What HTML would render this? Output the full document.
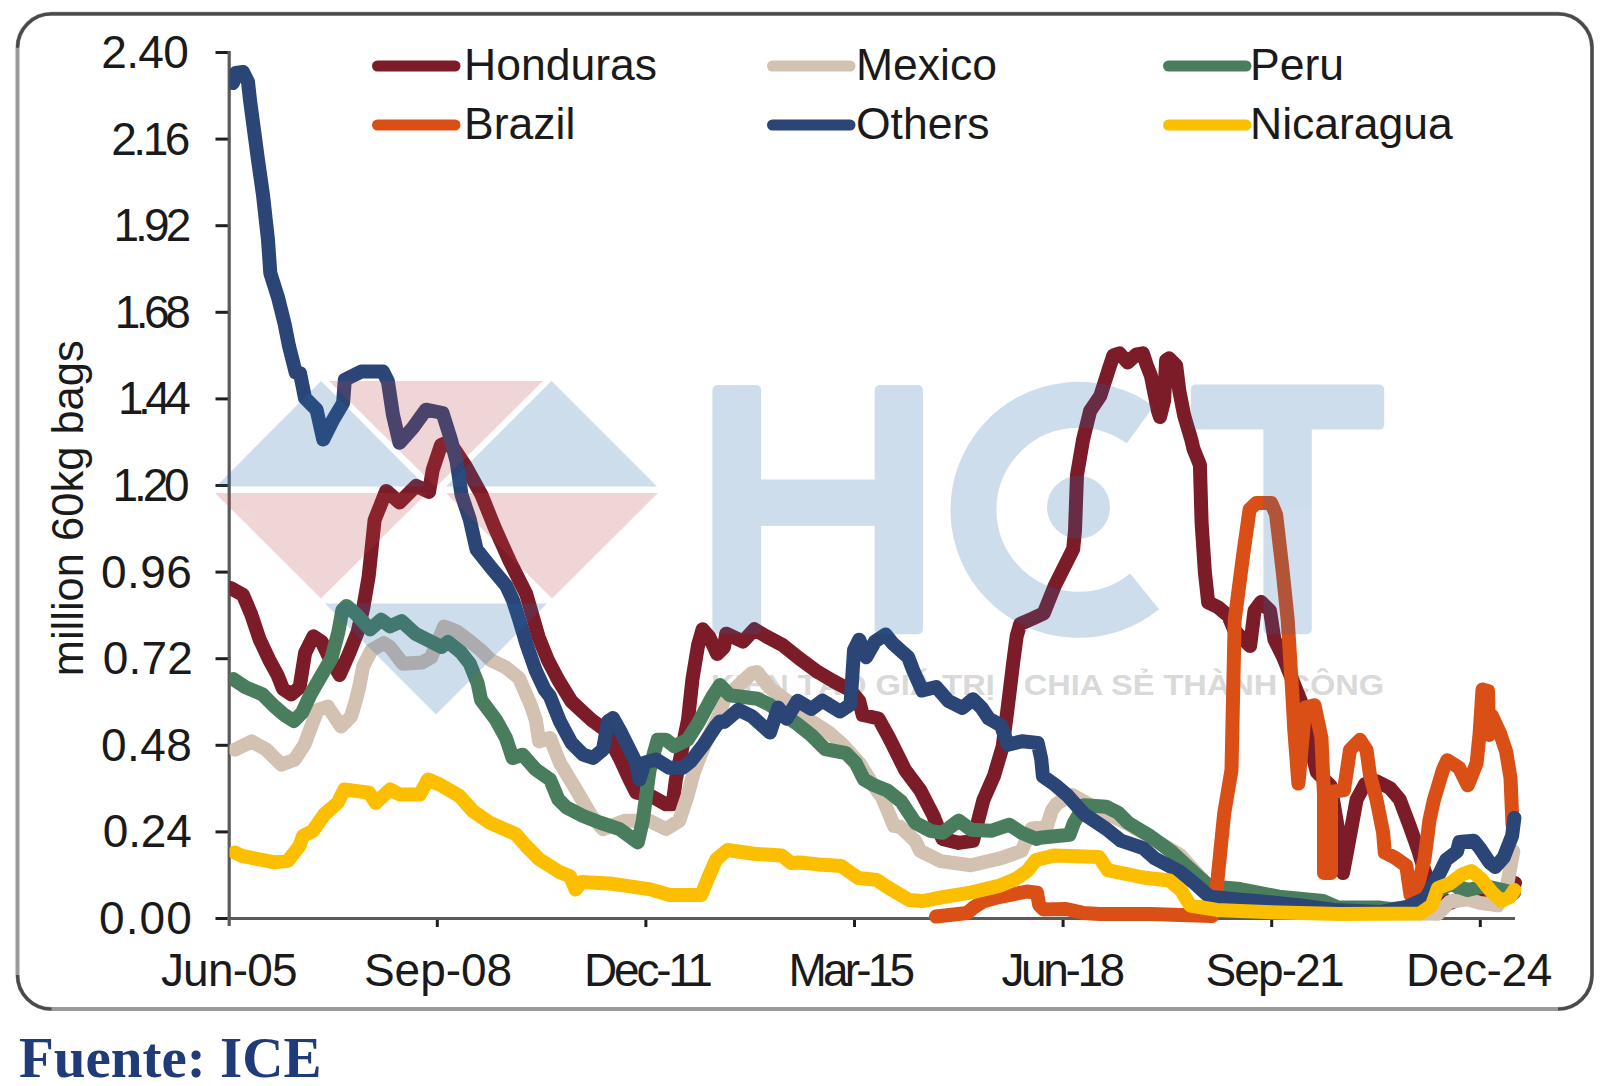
<!DOCTYPE html><html><head><meta charset="utf-8"><style>html,body{margin:0;padding:0;background:#fff;width:1600px;height:1086px;overflow:hidden}svg{display:block}text{font-family:"Liberation Sans",sans-serif}</style></head><body>
<svg width="1600" height="1086" viewBox="0 0 1600 1086">
<rect x="17.5" y="13.8" width="1574.5" height="995.2" rx="34" ry="34" fill="#fff" stroke="#9a9a9a" stroke-width="4"/>
<path d="M17.5,47.8 A34,34 0 0 1 51.5,13.8 L1558,13.8 A34,34 0 0 1 1592,47.8 L1592,975 A34,34 0 0 1 1558,1009 M51.5,1009 A34,34 0 0 1 17.5,975" fill="none" stroke="#4a4a4a" stroke-width="3.2"/>
<text x="711" y="695" font-size="28.8" font-weight="bold" fill="#d9d9d9" textLength="673" lengthAdjust="spacingAndGlyphs">KIẾN TẠO GIÁ TRỊ - CHIA SẺ THÀNH CÔNG</text>
<g stroke="#1e1e1e" stroke-width="3" fill="none">
<line x1="215.5" y1="918.5" x2="228.7" y2="918.5"/>
<line x1="215.5" y1="831.9" x2="228.7" y2="831.9"/>
<line x1="215.5" y1="745.3" x2="228.7" y2="745.3"/>
<line x1="215.5" y1="658.7" x2="228.7" y2="658.7"/>
<line x1="215.5" y1="572.1" x2="228.7" y2="572.1"/>
<line x1="215.5" y1="485.5" x2="228.7" y2="485.5"/>
<line x1="215.5" y1="398.9" x2="228.7" y2="398.9"/>
<line x1="215.5" y1="312.3" x2="228.7" y2="312.3"/>
<line x1="215.5" y1="225.7" x2="228.7" y2="225.7"/>
<line x1="215.5" y1="139.1" x2="228.7" y2="139.1"/>
<line x1="215.5" y1="52.5" x2="228.7" y2="52.5"/>
<line x1="437.3" y1="918.5" x2="437.3" y2="927"/>
<line x1="645.9" y1="918.5" x2="645.9" y2="927"/>
<line x1="854.5" y1="918.5" x2="854.5" y2="927"/>
<line x1="1063.1" y1="918.5" x2="1063.1" y2="927"/>
<line x1="1271.7" y1="918.5" x2="1271.7" y2="927"/>
<line x1="1480.3" y1="918.5" x2="1480.3" y2="927"/>
</g>
<g stroke="#5a5a5a" stroke-width="3.2" fill="none">
<line x1="229.2" y1="51" x2="229.2" y2="926"/>
<line x1="227.2" y1="918.5" x2="1515" y2="918.5"/>
</g>
<defs><clipPath id="pc"><rect x="229.5" y="0" width="1370" height="1086"/></clipPath></defs><g clip-path="url(#pc)">
<polyline points="230.5,588.0 243.0,594.9 251.2,614.2 259.5,639.1 269.2,659.8 277.5,675.0 283.0,688.8 291.3,694.3 299.6,687.4 305.1,652.9 313.4,636.3 321.7,641.8 328.0,655.0 339.6,675.0 349.3,652.9 357.6,632.2 363.1,608.7 368.6,576.9 374.6,520.0 386.2,490.9 399.5,502.5 416.1,485.9 429.0,492.0 432.7,470.0 441.0,445.0 446.0,443.0 455.0,450.0 464.9,465.0 481.4,494.6 494.7,527.7 509.6,560.9 526.2,594.0 538.7,637.3 547.6,659.4 558.3,680.0 571.5,701.5 591.4,719.8 604.7,729.7 619.6,757.9 629.5,779.4 636.2,792.7 649.4,795.0 666.0,804.3 672.6,804.3 675.9,779.4 682.6,746.3 688.0,720.0 692.5,678.8 698.1,645.0 702.6,629.3 709.4,637.1 717.2,654.0 724.0,647.2 726.2,633.7 743.1,641.6 754.4,629.3 765.6,636.0 782.5,645.0 799.4,658.5 816.2,670.9 833.1,681.0 850.0,690.0 859.2,701.0 862.7,715.0 878.5,718.5 889.0,737.7 899.5,758.7 905.1,770.0 920.3,790.3 933.4,815.6 942.5,838.9 958.7,842.9 972.9,840.9 983.4,800.0 993.9,776.2 1002.7,746.4 1007.9,706.2 1013.2,662.5 1016.7,636.2 1020.2,624.0 1032.4,618.7 1043.7,613.4 1054.7,585.8 1073.2,549.0 1075.0,530.5 1077.0,475.0 1083.0,440.0 1090.1,411.0 1100.3,395.8 1108.4,370.5 1113.4,355.3 1119.5,353.3 1127.6,362.4 1136.7,354.3 1142.8,353.3 1146.9,365.5 1150.9,375.6 1158.0,411.0 1160.0,417.1 1164.1,400.9 1166.1,360.4 1169.1,358.4 1176.2,365.5 1179.3,390.8 1184.3,416.1 1191.4,440.0 1193.3,448.3 1199.9,464.9 1201.6,522.8 1204.9,572.5 1208.2,602.4 1218.2,607.3 1228.1,615.6 1234.6,630.7 1250.1,646.1 1254.5,610.8 1261.1,602.0 1270.0,610.8 1274.4,639.5 1283.2,657.2 1292.1,679.3 1300.9,701.4 1309.9,744.5 1316.8,772.1 1330.7,786.0 1340.0,841.0 1343.0,873.0 1349.0,841.0 1356.6,799.5 1365.0,784.0 1376.5,781.3 1389.8,787.9 1399.7,799.5 1409.7,826.0 1418.0,849.3 1422.9,865.8 1425.0,872.0 1435.0,895.0 1450.0,903.0 1474.0,893.0 1495.0,900.0 1515.0,883.0" fill="none" stroke="#7b1c28" stroke-width="14" stroke-linejoin="round" stroke-linecap="round"/>
<polyline points="234.9,749.7 251.5,741.4 266.4,749.7 281.3,764.6 294.6,759.7 304.5,744.7 311.2,726.5 317.8,709.9 327.8,706.6 341.0,726.5 351.0,716.6 356.0,700.0 359.2,687.0 363.1,666.7 371.4,650.1 383.8,643.2 390.0,647.0 402.9,663.8 422.2,662.5 431.2,657.3 444.1,626.4 457.0,631.5 467.3,639.3 480.2,649.6 490.5,659.9 506.0,667.6 518.9,677.9 530.8,705.0 535.8,719.9 539.1,741.4 550.0,738.0 559.9,762.8 574.9,787.7 591.4,815.9 603.0,829.1 624.6,820.8 649.4,820.8 666.0,829.1 679.2,820.8 687.5,796.0 694.2,771.1 704.1,746.3 720.0,713.1 724.2,698.7 737.4,686.5 752.0,673.0 757.0,672.0 770.0,688.0 790.0,703.0 803.0,716.0 829.4,733.0 842.0,744.0 860.0,764.0 873.0,785.0 882.0,797.0 894.0,826.0 900.0,826.7 915.2,840.9 920.3,851.0 940.5,861.1 970.9,865.2 1001.3,858.1 1021.5,851.0 1031.6,828.7 1046.8,826.7 1051.9,810.5 1057.0,803.4 1072.4,795.0 1092.2,806.0 1130.0,825.0 1180.0,855.0 1209.0,887.0 1240.0,901.0 1300.0,911.0 1390.0,913.0 1437.9,913.7 1449.8,901.7 1467.8,899.3 1479.7,902.9 1497.7,905.3 1507.3,883.8 1513.3,851.5" fill="none" stroke="#d3c1b2" stroke-width="14" stroke-linejoin="round" stroke-linecap="round"/>
<polyline points="233.3,679.1 245.7,687.4 262.3,694.3 273.3,705.4 284.4,715.0 294.0,721.0 302.3,712.3 310.6,694.3 321.7,675.0 331.4,658.4 338.3,632.2 342.4,610.1 346.5,605.9 356.2,614.2 370.0,629.4 381.1,619.7 390.0,626.4 401.6,621.2 415.8,634.1 428.7,640.6 441.5,647.0 448.0,641.9 460.9,652.2 469.9,663.8 477.6,683.1 481.1,700.0 496.0,719.9 506.0,738.1 512.6,758.0 522.6,754.7 535.8,769.6 550.0,779.4 558.3,799.3 566.6,807.6 583.1,815.9 599.7,822.5 619.6,829.1 637.8,842.4 642.8,820.8 646.1,796.0 649.4,771.1 654.4,751.3 657.7,739.7 666.0,739.7 674.3,746.3 687.5,739.7 699.1,721.4 712.4,696.6 720.0,685.0 729.7,695.3 757.3,698.7 770.0,704.9 797.6,724.2 811.4,735.2 825.2,749.1 846.0,753.2 855.6,762.9 863.9,779.4 873.6,785.0 887.4,790.5 901.2,801.5 915.2,822.7 930.4,830.8 942.5,832.8 958.7,820.6 970.9,829.7 991.1,830.8 1009.4,824.7 1021.5,832.8 1036.7,838.9 1040.0,837.7 1069.5,834.8 1073.9,823.0 1084.2,805.3 1106.3,806.8 1118.1,812.7 1128.4,823.0 1150.5,836.3 1172.5,852.5 1194.6,873.1 1209.4,886.3 1240.0,889.0 1278.8,896.6 1323.0,901.0 1338.4,907.6 1380.0,907.6 1390.0,909.0 1425.0,907.0 1437.0,892.0 1450.0,884.0 1467.8,890.0 1485.0,886.0 1502.5,890.0 1514.0,893.0" fill="none" stroke="#4a7d5e" stroke-width="14" stroke-linejoin="round" stroke-linecap="round"/>
<polyline points="936.0,916.5 967.2,913.0 974.0,907.2 983.0,901.6 998.8,897.1 1026.9,891.5 1037.0,892.6 1039.2,905.0 1043.7,909.5 1066.2,909.0 1083.1,912.9 1100.0,914.0 1150.0,914.0 1212.0,916.0 1216.7,887.8 1224.1,814.2 1231.5,770.0 1234.7,620.0 1243.0,556.0 1249.6,509.6 1256.3,503.0 1271.2,503.0 1276.1,514.6 1282.8,572.5 1287.7,620.0 1292.1,690.0 1294.3,730.0 1298.4,783.6 1305.3,707.6 1314.5,705.3 1321.4,737.6 1324.0,795.0 1324.0,873.0 1331.0,873.0 1331.0,792.0 1344.0,790.0 1350.0,749.8 1359.9,739.8 1366.5,749.8 1369.9,774.6 1376.5,799.5 1383.1,832.7 1384.8,852.6 1394.7,857.5 1406.3,865.8 1410.5,895.0 1414.6,898.8 1424.5,859.0 1429.5,820.0 1433.9,800.0 1442.7,770.5 1447.2,760.2 1459.0,767.6 1467.8,785.3 1476.6,763.2 1479.6,733.7 1482.5,689.5 1488.0,691.0 1489.0,735.0 1492.0,716.0 1500.2,733.7 1506.1,751.4 1510.5,777.9 1512.5,825.0" fill="none" stroke="#d94f16" stroke-width="14" stroke-linejoin="round" stroke-linecap="round"/>
<polyline points="233.0,83.0 236.0,73.0 243.0,72.0 248.0,82.0 250.0,100.0 254.0,130.0 258.0,160.0 263.0,195.0 268.0,240.0 270.3,273.1 278.0,297.4 284.6,323.9 289.0,346.0 295.7,372.5 300.0,373.2 305.0,398.0 316.6,409.7 323.2,439.5 333.2,419.6 343.1,403.0 344.8,379.8 361.4,371.5 382.9,371.5 387.9,381.5 392.9,414.6 399.5,442.8 412.8,427.9 426.0,409.7 442.6,413.0 450.9,439.5 456.6,461.4 461.5,494.6 469.8,519.5 476.5,549.3 489.7,565.9 506.3,585.8 512.9,600.0 518.9,618.7 526.6,644.4 535.6,670.2 544.6,689.5 550.0,696.6 559.9,721.4 571.5,743.0 583.1,754.6 593.1,757.9 603.0,749.6 608.0,721.4 613.0,718.1 621.3,733.0 627.9,746.3 636.2,762.8 639.5,779.4 644.5,762.8 656.0,759.5 669.3,767.8 682.6,767.8 690.8,761.2 702.4,746.3 715.7,726.4 720.0,721.4 724.2,721.9 738.5,709.7 751.8,716.3 770.0,732.5 778.3,707.6 786.6,718.7 797.6,700.7 811.4,709.0 822.5,700.7 840.0,711.5 850.5,704.5 854.0,650.2 859.2,639.7 866.2,657.2 875.0,641.5 885.5,634.5 892.5,643.2 908.2,657.2 913.5,671.2 922.2,690.5 936.2,687.0 948.4,701.0 962.4,708.0 972.9,699.2 981.7,708.0 988.7,718.5 1000.9,725.4 1007.9,744.7 1021.9,741.2 1037.7,742.9 1041.2,758.7 1042.9,776.2 1055.1,784.9 1067.4,795.4 1084.2,814.2 1106.3,828.9 1121.0,840.7 1143.1,848.1 1154.9,858.4 1179.9,871.6 1194.6,883.4 1209.4,896.7 1240.0,899.6 1256.7,901.0 1300.9,905.4 1334.0,909.9 1380.0,912.1 1390.0,910.1 1408.0,906.5 1425.9,898.1 1440.3,871.8 1446.2,859.8 1457.0,851.5 1459.4,841.9 1473.8,840.7 1479.7,847.9 1489.3,862.2 1495.3,867.0 1503.7,857.4 1512.1,835.9 1514.4,817.9" fill="none" stroke="#2a4576" stroke-width="14" stroke-linejoin="round" stroke-linecap="round"/>
<polyline points="234.9,852.5 241.6,855.8 258.1,859.1 274.7,862.4 288.0,860.8 299.6,845.8 302.9,835.9 312.8,830.9 324.4,814.4 337.7,802.8 344.3,789.5 357.6,791.1 369.2,792.8 375.8,802.8 390.0,789.5 399.9,794.5 419.8,794.5 428.1,779.5 439.7,784.5 459.6,796.1 472.8,811.0 489.4,822.6 515.9,834.2 525.9,845.8 539.1,859.1 560.0,872.3 570.0,876.3 575.6,889.4 581.3,881.9 613.1,883.8 650.6,889.4 669.4,895.0 701.3,895.0 708.8,876.3 716.3,859.4 727.5,850.0 753.8,853.8 781.9,855.6 791.3,863.1 800.0,862.5 818.8,864.4 841.3,866.0 849.2,871.6 858.4,878.0 876.8,879.9 886.0,886.3 895.2,891.8 909.1,900.1 922.9,901.0 936.7,898.3 942.5,897.1 970.6,892.6 998.8,885.9 1015.6,879.1 1026.9,871.3 1036.0,860.0 1054.7,855.4 1098.9,856.9 1107.7,870.1 1143.1,877.5 1169.6,880.5 1181.4,890.8 1190.2,905.5 1216.7,909.9 1240.0,911.0 1278.8,912.5 1340.0,914.0 1420.0,913.5 1431.9,905.3 1437.9,888.0 1449.8,883.5 1461.8,874.5 1471.4,871.0 1480.9,878.6 1491.7,892.0 1501.3,901.0 1509.7,897.0 1514.4,890.0" fill="none" stroke="#fcbf00" stroke-width="14" stroke-linejoin="round" stroke-linecap="round"/>
</g>
<g opacity="0.22"><polygon points="321.0,381.0 216.0,486.5 426.0,486.5" fill="#2767ab"/><polygon points="329.0,381.0 543.0,381.0 436.0,487.0" fill="#bb434b"/><polygon points="551.5,381.0 446.0,486.5 657.0,486.5" fill="#2767ab"/><polygon points="215.0,493.0 427.0,493.0 321.0,598.5" fill="#bb434b"/><polygon points="446.0,493.0 658.0,493.0 552.0,598.5" fill="#bb434b"/><polygon points="325.0,603.5 547.0,603.5 436.0,714.5" fill="#2767ab"/><rect x="712.4" y="385" width="48.7" height="249.2" rx="5" fill="#2767ab"/><rect x="874.7" y="385" width="48.2" height="249.2" rx="5" fill="#2767ab"/><rect x="740" y="479.5" width="150" height="46.4" fill="#2767ab"/><path d="M1140.2,424.9 A105,105 0 1 0 1144.6,591.4" fill="none" stroke="#2767ab" stroke-width="46" stroke-linecap="butt" stroke-linejoin="round"/><circle cx="1078.5" cy="507.3" r="31.5" fill="#2767ab"/><rect x="1190.9" y="384.5" width="193.3" height="45.1" rx="5" fill="#2767ab"/><rect x="1263.4" y="400" width="48.4" height="234.2" rx="5" fill="#2767ab"/></g>
<text x="99.0" y="934.0" font-size="46" fill="#1a1a1a" textLength="92.9" lengthAdjust="spacing">0.00</text>
<text x="102.7" y="847.4" font-size="46" fill="#1a1a1a" textLength="89.2" lengthAdjust="spacing">0.24</text>
<text x="100.9" y="760.8" font-size="46" fill="#1a1a1a" textLength="91.0" lengthAdjust="spacing">0.48</text>
<text x="102.7" y="674.2" font-size="46" fill="#1a1a1a" textLength="90.2" lengthAdjust="spacing">0.72</text>
<text x="100.9" y="587.6" font-size="46" fill="#1a1a1a" textLength="91.0" lengthAdjust="spacing">0.96</text>
<text x="112.5" y="501.0" font-size="46" fill="#1a1a1a" textLength="77.2" lengthAdjust="spacing">1.20</text>
<text x="118.0" y="414.4" font-size="46" fill="#1a1a1a" textLength="72.8" lengthAdjust="spacing">1.44</text>
<text x="114.7" y="327.8" font-size="46" fill="#1a1a1a" textLength="76.1" lengthAdjust="spacing">1.68</text>
<text x="113.4" y="241.2" font-size="46" fill="#1a1a1a" textLength="77.9" lengthAdjust="spacing">1.92</text>
<text x="111.3" y="154.6" font-size="46" fill="#1a1a1a" textLength="79.0" lengthAdjust="spacing">2.16</text>
<text x="101.2" y="68.0" font-size="46" fill="#1a1a1a" textLength="87.7" lengthAdjust="spacing">2.40</text>
<text x="160.9" y="986.0" font-size="46" fill="#1a1a1a" textLength="136.7" lengthAdjust="spacing">Jun-05</text>
<text x="364.0" y="986.0" font-size="46" fill="#1a1a1a" textLength="148.0" lengthAdjust="spacing">Sep-08</text>
<text x="584.0" y="986.0" font-size="46" fill="#1a1a1a" textLength="128.9" lengthAdjust="spacing">Dec-11</text>
<text x="788.5" y="986.0" font-size="46" fill="#1a1a1a" textLength="126.7" lengthAdjust="spacing">Mar-15</text>
<text x="1001.5" y="986.0" font-size="46" fill="#1a1a1a" textLength="123.7" lengthAdjust="spacing">Jun-18</text>
<text x="1205.5" y="986.0" font-size="46" fill="#1a1a1a" textLength="139.1" lengthAdjust="spacing">Sep-21</text>
<text x="1406.0" y="986.0" font-size="46" fill="#1a1a1a" textLength="146.3" lengthAdjust="spacing">Dec-24</text>
<text transform="translate(82.5,508.3) rotate(-90)" font-size="43.5" fill="#1a1a1a" text-anchor="middle">million 60kg bags</text>
<line x1="377.5" y1="66" x2="455" y2="66" stroke="#7b1c28" stroke-width="11" stroke-linecap="round"/>
<text x="464" y="79.5" font-size="44.5" fill="#1a1a1a">Honduras</text>
<line x1="377.5" y1="125" x2="455" y2="125" stroke="#d94f16" stroke-width="11" stroke-linecap="round"/>
<text x="464" y="138.5" font-size="44.5" fill="#1a1a1a">Brazil</text>
<line x1="772.5" y1="66" x2="850" y2="66" stroke="#d3c1b2" stroke-width="11" stroke-linecap="round"/>
<text x="856" y="79.5" font-size="44.5" fill="#1a1a1a">Mexico</text>
<line x1="772.5" y1="125" x2="850" y2="125" stroke="#2a4576" stroke-width="11" stroke-linecap="round"/>
<text x="856" y="138.5" font-size="44.5" fill="#1a1a1a">Others</text>
<line x1="1168.5" y1="66" x2="1246" y2="66" stroke="#4a7d5e" stroke-width="11" stroke-linecap="round"/>
<text x="1250" y="79.5" font-size="44.5" fill="#1a1a1a">Peru</text>
<line x1="1168.5" y1="125" x2="1246" y2="125" stroke="#fcbf00" stroke-width="11" stroke-linecap="round"/>
<text x="1250" y="138.5" font-size="44.5" fill="#1a1a1a">Nicaragua</text>
</svg>
<div style="position:absolute;left:19px;top:1028.5px;font-family:'Liberation Serif',serif;font-weight:bold;font-size:57px;color:#1f3c78;line-height:1">Fuente: ICE</div>
</body></html>
